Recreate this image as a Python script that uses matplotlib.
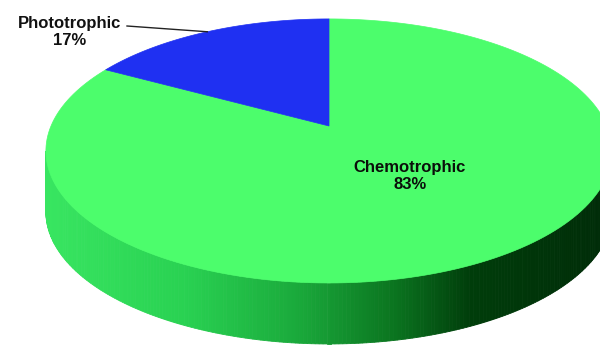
import numpy as np
import matplotlib.pyplot as plt
from matplotlib.patches import Polygon

plt.rcParams['font.family'] = ['Liberation Sans', 'DejaVu Sans']

# share of each nutrition type
labels = ["Chemotrophic", "Phototrophic"]
shares = [83, 17]
top_colors = ["#4cfd6c", "#1f30f2"]

# 3d pie look: apex, half axes, perspective factor, wall height (pixels)
cx, cy = 329, 126
A, B, k = 278, 127.3, 0.189
depth = 61


def rim(theta_deg):
    # theta measured clockwise from 12 o'clock
    t = np.radians(theta_deg)
    u = np.sin(t)
    v = -np.cos(t)
    w = 1 - k * v
    return cx + A * u / w, cy + B * v / w


fig = plt.figure(figsize=(6, 3.45), dpi=100)
ax = fig.add_axes([0, 0, 1, 1])
ax.set_xlim(0, 600)
ax.set_ylim(345, 0)
ax.axis("off")

# front wall, shaded from bright on the left to dark on the right
t_left = 180 + np.degrees(np.arccos(k))
t_right = 180 - np.degrees(np.arccos(k))
ts = np.linspace(t_left, t_right, 240)
wx, wy = rim(ts)
stops = [0.0, 0.25, 0.45, 0.62, 0.75, 1.0]
shades = np.array([
    [0.22, 0.90, 0.38],
    [0.16, 0.82, 0.32],
    [0.10, 0.66, 0.23],
    [0.04, 0.45, 0.12],
    [0.00, 0.24, 0.04],
    [0.00, 0.17, 0.03],
])
x0, x1 = wx.min(), wx.max()
for i in range(len(ts) - 1):
    f = ((wx[i] + wx[i + 1]) / 2 - x0) / (x1 - x0)
    col = [np.interp(f, stops, shades[:, c]) for c in range(3)]
    quad = [(wx[i], wy[i]), (wx[i + 1], wy[i + 1]),
            (wx[i + 1], wy[i + 1] + depth), (wx[i], wy[i] + depth)]
    ax.add_patch(Polygon(quad, closed=True, facecolor=col,
                         edgecolor=col, lw=0.6))

# top faces of the slices
start = 0.0
mids = []
for share, col in zip(shares, top_colors):
    span = share / sum(shares) * 360
    t = np.linspace(start, start + span, 200)
    px, py = rim(t)
    pts = [(cx, cy)] + list(zip(px, py))
    ax.add_patch(Polygon(pts, closed=True, facecolor=col, edgecolor=col, lw=0.5))
    mids.append(start + span / 2)
    start += span

# labels
ax.text(410, 176, f"{labels[0]}\n{shares[0]}%", ha="center", va="center",
        fontsize=12, fontweight="bold", color="#0a0f0a", linespacing=1.15)
ax.text(70, 32, f"{labels[1]}\n{shares[1]}%", ha="center", va="center",
        fontsize=12, fontweight="bold", color="#111111", linespacing=1.15)

# leader line to the phototrophic slice
lx, ly = rim(mids[1])
ax.plot([127, lx], [26, ly], color="#222222", lw=1.0)

fig.savefig("out.png", dpi=100, facecolor="white")
